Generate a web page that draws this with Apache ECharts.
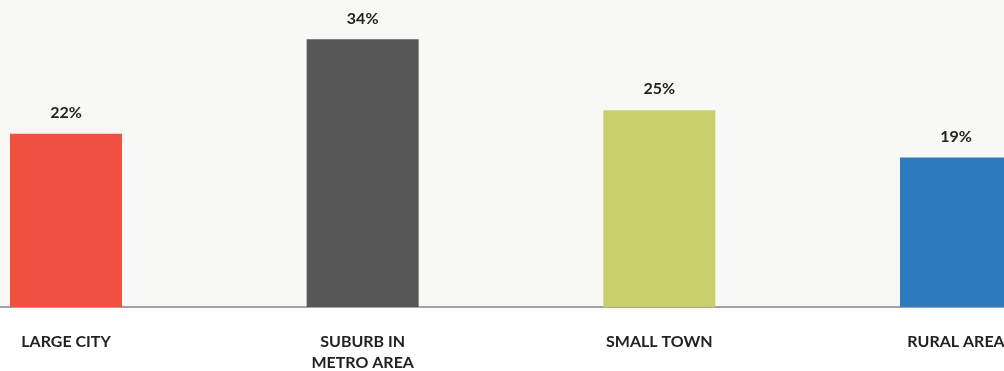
<!DOCTYPE html>
<html>
<head>
<meta charset="utf-8">
<script src="https://cdn.jsdelivr.net/npm/echarts@6/dist/echarts.min.js"></script>
<style>
  html, body { margin: 0; padding: 0; background: #ffffff; }
  #chart { width: 1004px; height: 371px; }
</style>
</head>
<body>
<div id="chart"></div>
<script>
// Where people live: share of respondents by community type
const categories = ['LARGE CITY', 'SUBURB IN\nMETRO AREA', 'SMALL TOWN', 'RURAL AREA'];
const shares = [22, 34, 25, 19];
const barColors = ['#f05141', '#575757', '#c9d06a', '#2e7bc0'];
const categoryIndex = categories.map((_, i) => i);

const chart = echarts.init(document.getElementById('chart'));
chart.setOption({
  backgroundColor: '#ffffff',
  animation: false,
  grid: {
    show: true,
    backgroundColor: '#f8f8f4',
    borderWidth: 0,
    outerBoundsMode: 'none',
    left: 0,
    right: 0,
    top: 0,
    bottom: 64
  },
  // Positional x axis: the last bar runs off the right edge of the plot
  xAxis: {
    type: 'value',
    min: -0.2225,
    max: 3.1618,
    splitLine: { show: false },
    axisLine: { show: true, onZero: false, lineStyle: { color: '#a3a3a3', width: 2 } },
    axisTick: { show: false },
    axisLabel: {
      customValues: categoryIndex,
      formatter: (v) => categories[Math.round(v)] || '',
      showMinLabel: true,
      showMaxLabel: true,
      hideOverlap: false,
      margin: 24,
      color: '#222222',
      fontFamily: 'Lato',
      fontWeight: 'bold',
      fontSize: 16,
      lineHeight: 21
    }
  },
  yAxis: {
    type: 'value',
    min: 0,
    max: 39,
    show: false,
    splitLine: { show: false }
  },
  series: [{
    type: 'bar',
    barWidth: 112,
    data: shares.map((v, i) => ({ value: [i, v], itemStyle: { color: barColors[i] } })),
    label: {
      show: true,
      position: 'top',
      distance: 13,
      formatter: (p) => p.value[1] + '%',
      color: '#222222',
      fontFamily: 'Lato',
      fontWeight: 'bold',
      fontSize: 16
    }
  }]
});
</script>
</body>
</html>
